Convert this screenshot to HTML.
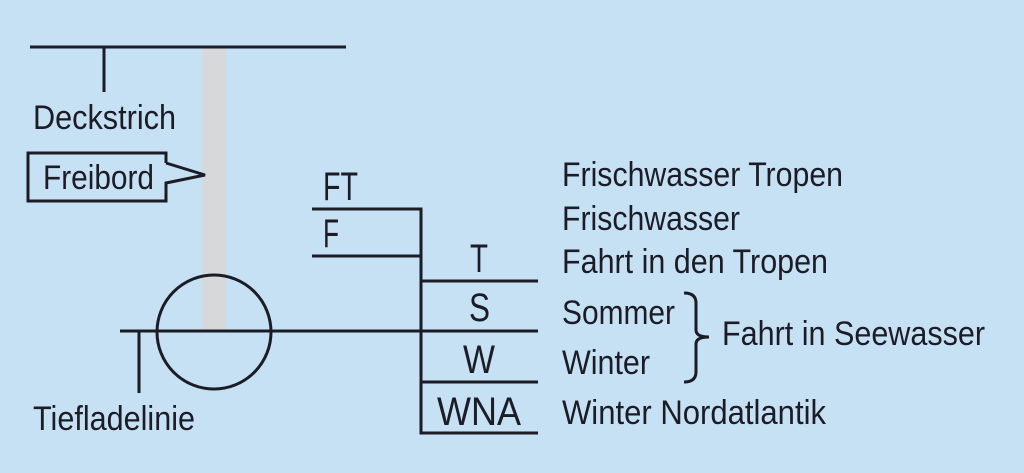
<!DOCTYPE html>
<html><head><meta charset="utf-8"><style>
html,body{margin:0;padding:0;background:#c6e1f4;}
svg{display:block;}
text{font-family:"Liberation Sans Narrow","Liberation Sans",sans-serif;font-size:34px;fill:#1c1c26;}
text.big{font-size:40px;}
</style></head><body>
<svg width="1024" height="473" viewBox="0 0 1024 473" xmlns="http://www.w3.org/2000/svg">
<rect width="1024" height="473" fill="#c6e1f4"/>
<rect x="202" y="47" width="24" height="284" fill="#d6d8da"/>
<g stroke="#1c1c26" stroke-width="3" fill="none">
<line x1="30" y1="47" x2="346" y2="47"/>
<line x1="104" y1="47" x2="104" y2="92"/>
<path d="M166 163 V153 H28 V201 H166 V183 L205 175 L166 163"/>
<circle cx="214" cy="332" r="57"/>
<line x1="120" y1="331" x2="538" y2="331"/>
<line x1="139" y1="331" x2="139" y2="393"/>
<path d="M312 209 H421 V433 H538"/>
<line x1="312" y1="256" x2="421" y2="256"/>
<line x1="421" y1="281" x2="538" y2="281"/>
<line x1="421" y1="382" x2="538" y2="382"/>
<path d="M684 293 Q696 293 696 303 V330 Q696 337 709 337 Q696 337 696 344 V372 Q696 382 684 382"/>
</g>
<text x="33" y="129" textLength="143" lengthAdjust="spacingAndGlyphs">Deckstrich</text>
<text x="43" y="189" textLength="111" lengthAdjust="spacingAndGlyphs">Freibord</text>
<text x="33" y="430" textLength="162" lengthAdjust="spacingAndGlyphs">Tiefladelinie</text>
<text class="big" x="323" y="200" textLength="35" lengthAdjust="spacingAndGlyphs">FT</text>
<text class="big" x="323" y="247" textLength="16" lengthAdjust="spacingAndGlyphs">F</text>
<text class="big" x="470" y="272" textLength="18" lengthAdjust="spacingAndGlyphs">T</text>
<text class="big" x="469" y="321" textLength="21" lengthAdjust="spacingAndGlyphs">S</text>
<text class="big" x="463" y="373" textLength="32" lengthAdjust="spacingAndGlyphs">W</text>
<text class="big" x="437" y="425" textLength="84" lengthAdjust="spacingAndGlyphs">WNA</text>
<text x="562" y="186" textLength="281" lengthAdjust="spacingAndGlyphs">Frischwasser Tropen</text>
<text x="562" y="230" textLength="178" lengthAdjust="spacingAndGlyphs">Frischwasser</text>
<text x="562" y="273" textLength="266" lengthAdjust="spacingAndGlyphs">Fahrt in den Tropen</text>
<text x="562" y="324" textLength="113" lengthAdjust="spacingAndGlyphs">Sommer</text>
<text x="562" y="374" textLength="88" lengthAdjust="spacingAndGlyphs">Winter</text>
<text x="562" y="424" textLength="264" lengthAdjust="spacingAndGlyphs">Winter Nordatlantik</text>
<text x="722" y="345" textLength="263" lengthAdjust="spacingAndGlyphs">Fahrt in Seewasser</text>
</svg>
</body></html>
